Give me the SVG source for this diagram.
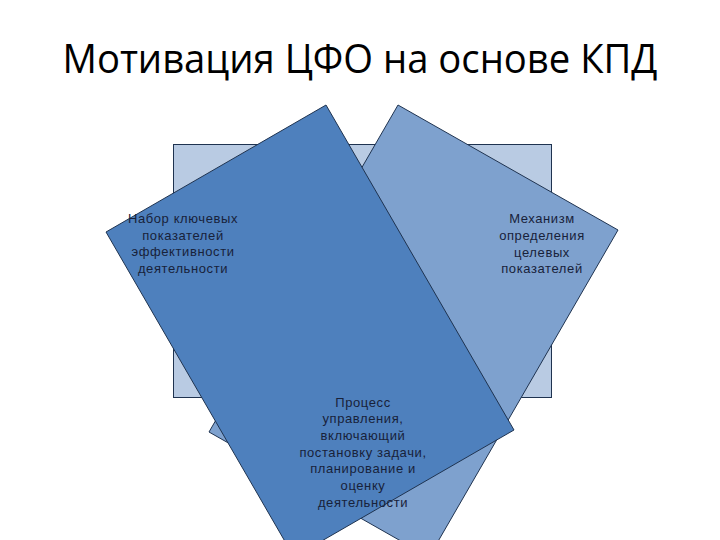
<svg xmlns="http://www.w3.org/2000/svg" width="720" height="540" viewBox="0 0 720 540">
<style>
.shape{stroke:#1f3350;stroke-width:1}
.lbl{font-family:"Liberation Sans",Arial,sans-serif;font-size:13px;letter-spacing:0.6px;fill:#18223a;text-anchor:middle}
.title{font-family:"Open Sans","Liberation Sans",sans-serif;font-size:40px;fill:#000;text-anchor:middle}
</style>
<rect width="720" height="540" fill="#fff"/>
<text class="title" x="360" y="73" textLength="595" lengthAdjust="spacingAndGlyphs">Мотивация ЦФО на основе КПД</text>
<g id="back-square">
<rect class="shape" x="173.5" y="144.5" width="378" height="253" fill="#b9cbe3"/>
</g>
<g id="node-mechanism">
<polygon class="shape" points="398,105 618,230 429,557 209,432" fill="#7ea1ce"/>
<text class="lbl" x="542" y="223">Механизм</text>
<text class="lbl" x="542" y="240">определения</text>
<text class="lbl" x="542" y="257">целевых</text>
<text class="lbl" x="542" y="273">показателей</text>
</g>
<g id="node-process">
<polygon class="shape" points="326,105 514,430 294,557 106,232" fill="#4e80bd"/>
<text class="lbl" x="363" y="407">Процесс</text>
<text class="lbl" x="363" y="423">управления,</text>
<text class="lbl" x="363" y="440">включающий</text>
<text class="lbl" x="363" y="457">постановку задачи,</text>
<text class="lbl" x="363" y="473">планирование и</text>
<text class="lbl" x="363" y="490">оценку</text>
<text class="lbl" x="363" y="507">деятельности</text>
</g>
<g id="node-kpi-set">
<text class="lbl" x="183" y="223">Набор ключевых</text>
<text class="lbl" x="183" y="240">показателей</text>
<text class="lbl" x="183" y="256">эффективности</text>
<text class="lbl" x="183" y="273">деятельности</text>
</g>
<g id="connectors"></g>
</svg>
